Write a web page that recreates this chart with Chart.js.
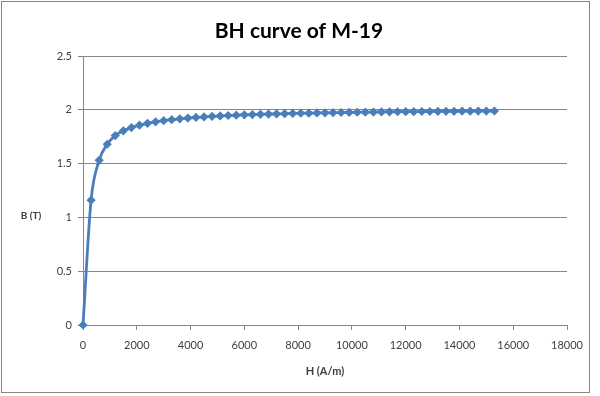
<!DOCTYPE html>
<html>
<head>
<meta charset="utf-8">
<script src="https://cdn.jsdelivr.net/npm/chart.js@4"></script>
<style>
html,body{margin:0;padding:0;background:#fff;}
#wrap{position:absolute;left:0;top:0;width:600px;height:396px;}
#frame{position:absolute;left:1px;top:1px;width:589px;height:392px;border:1px solid #868686;box-sizing:border-box;pointer-events:none;}
</style>
</head>
<body>
<div id="wrap"><canvas id="c" width="600" height="396"></canvas><div id="frame"></div></div>
<script>
const chartTitle = "BH curve of M-19";
const xTitle = "H (A/m)";
const yTitle = "B (T)";
const hValues = [0,300,600,900,1200,1500,1800,2100,2400,2700,3000,3300,3600,3900,4200,4500,4800,5100,5400,5700,6000,6300,6600,6900,7200,7500,7800,8100,8400,8700,9000,9300,9600,9900,10200,10500,10800,11100,11400,11700,12000,12300,12600,12900,13200,13500,13800,14100,14400,14700,15000,15300];
const bValues = [0,1.16,1.53,1.68,1.76,1.805,1.835,1.857,1.874,1.888,1.899,1.908,1.916,1.923,1.929,1.934,1.939,1.943,1.947,1.950,1.953,1.956,1.958,1.960,1.962,1.964,1.966,1.968,1.969,1.971,1.972,1.973,1.975,1.976,1.977,1.978,1.979,1.980,1.981,1.982,1.983,1.983,1.984,1.984,1.985,1.986,1.986,1.987,1.987,1.988,1.988,1.989];
const xTicks = [0,2000,4000,6000,8000,10000,12000,14000,16000,18000];
const yTicks = [0,0.5,1,1.5,2,2.5];

const points = hValues.map((h,i)=>({x:h,y:bValues[i]}));
const FONT = 'Lato, "Liberation Sans", Arial, sans-serif';

const textPlugin = {
  id:'textH',
  afterDraw(chart){
    const ctx = chart.ctx;
    ctx.save();
    ctx.fillStyle = '#000';
    ctx.textAlign = 'center';
    ctx.textBaseline = 'middle';
    ctx.font = 'bold 21px ' + FONT;
    ctx.fillText(chartTitle, 299, 31);
    ctx.font = 'bold 10px ' + FONT;
    ctx.fillStyle = '#404040';
    ctx.fillText(yTitle, 31, 216);
    ctx.restore();
  }
};

new Chart(document.getElementById('c'), {
  type:'line',
  data:{datasets:[{
    data:points,
    borderColor:'#4A7EBB',
    backgroundColor:'#4A7EBB',
    borderWidth:2.8,
    pointStyle:'rectRot',
    pointRadius:4.6,
    pointBorderWidth:0,
    cubicInterpolationMode:'monotone',
    clip:false
  }]},
  options:{
    responsive:false,
    animation:false,
    layout:{padding:{top:56,right:33,bottom:14,left:0}},
    plugins:{
      legend:{display:false},
      tooltip:{enabled:false},
      title:{display:false}
    },
    scales:{
      x:{type:'linear',min:0,max:18000,
        afterBuildTicks(s){s.ticks = xTicks.map(v=>({value:v}));},
        afterFit(s){s.height=57;},
        ticks:{color:'#404040',font:{family:FONT,size:11},padding:9,maxRotation:0,
          callback:v=>String(v)},
        grid:{drawOnChartArea:false,drawTicks:true,tickLength:5,color:'#868686'},
        border:{color:'#868686',width:1},
        title:{display:true,text:xTitle,color:'#404040',font:{family:FONT,size:11,weight:'bold'},padding:{top:4,bottom:4}}
      },
      y:{type:'linear',min:0,max:2.5,
        afterBuildTicks(s){s.ticks = yTicks.map(v=>({value:v}));},
        afterFit(s){s.width=83;},
        ticks:{color:'#404040',font:{family:FONT,size:11},padding:6,
          callback:v=>String(v)},
        grid:{color:'#868686',tickLength:5,drawTicks:true},
        border:{color:'#868686',width:1}
      }
    }
  },
  plugins:[textPlugin]
});
</script>
</body>
</html>
